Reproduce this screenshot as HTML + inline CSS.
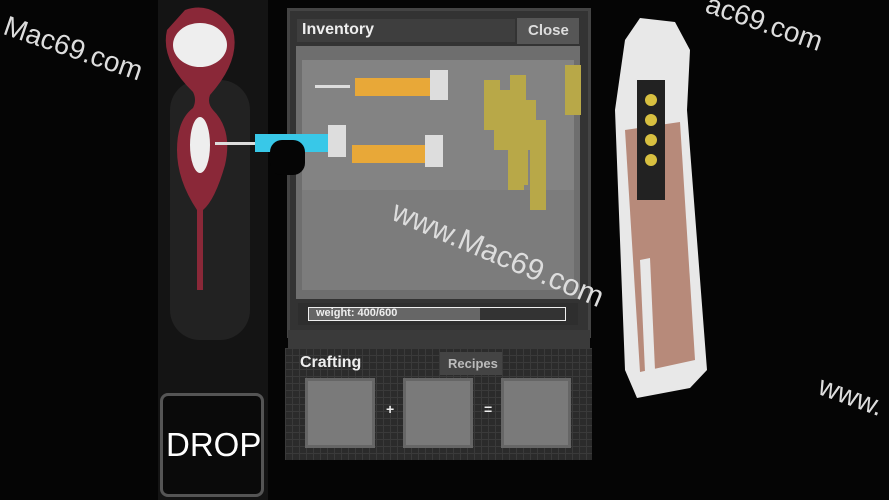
<!DOCTYPE html>
<html><head><meta charset="utf-8"><style>
body{margin:0;width:889px;height:500px;background:#050505;position:relative;overflow:hidden;font-family:"Liberation Sans",sans-serif}
div{position:absolute;box-sizing:border-box}
.t{color:#eee;font-weight:bold}
.wm{color:#ddd;font-size:28px;white-space:nowrap;transform-origin:left top}
</style></head><body>
<!-- left silhouette -->
<div style="left:158px;top:0;width:110px;height:500px;background:#141414"></div>
<div style="left:170px;top:80px;width:80px;height:260px;background:#222;border-radius:30px"></div>
<svg style="position:absolute;left:155px;top:0" width="120" height="300">
<path d="M30 10 Q58 0 78 30 Q86 60 55 95 Q52 103 58 110 Q78 130 70 165 Q60 200 48 210 L48 290 L42 290 L42 210 Q22 180 22 150 Q22 120 38 108 Q42 100 38 92 Q5 60 12 30 Z" fill="#8a2838"/>
<ellipse cx="45" cy="45" rx="27" ry="22" fill="#eee"/>
<ellipse cx="45" cy="145" rx="10" ry="28" fill="#eee"/>
</svg>
<!-- right weapon -->
<svg style="position:absolute;left:595px;top:10px" width="130" height="390">
<polygon points="30,30 45,8 80,12 95,40 92,100 112,360 95,378 42,388 30,360 20,100" fill="#e8e8e8"/>
<polygon points="30,120 85,112 100,350 45,362" fill="#b78a7a"/>
<polygon points="45,250 55,248 60,360 50,362" fill="#e8e8e8"/>
<rect x="42" y="70" width="28" height="120" fill="#222"/>
<circle cx="56" cy="90" r="6" fill="#d8c040"/><circle cx="56" cy="110" r="6" fill="#d8c040"/><circle cx="56" cy="130" r="6" fill="#d8c040"/><circle cx="56" cy="150" r="6" fill="#d8c040"/>
</svg>
<!-- inventory panel -->
<div style="left:287px;top:8px;width:304px;height:330px;background:#333;border:3px solid #444"></div>
<div style="left:297px;top:19px;width:218px;height:23px;background:#3e3e3e"></div>
<div class="t" style="left:302px;top:21px;font-size:16px">Inventory</div>
<div style="left:517px;top:18px;width:62px;height:26px;background:#565656"></div>
<div style="left:528px;top:22px;font-size:15px;color:#ddd;font-weight:bold">Close</div>
<div style="left:296px;top:46px;width:284px;height:253px;background:#6e6e6e"></div>
<div style="left:302px;top:60px;width:272px;height:230px;background:#838383"></div>
<div style="left:302px;top:190px;width:272px;height:100px;background:#7c7c7c"></div>
<!-- syringes -->
<div style="left:315px;top:85px;width:35px;height:3px;background:#ddd"></div>
<div style="left:355px;top:78px;width:75px;height:18px;background:#e8a838"></div>
<div style="left:430px;top:70px;width:18px;height:30px;background:#ddd"></div>
<div style="left:215px;top:142px;width:40px;height:3px;background:#ddd"></div>
<div style="left:255px;top:134px;width:75px;height:18px;background:#38c8e8"></div>
<div style="left:328px;top:125px;width:18px;height:32px;background:#ddd"></div>
<div style="left:270px;top:140px;width:35px;height:35px;background:#050505;border-radius:12px"></div>
<div style="left:352px;top:145px;width:75px;height:18px;background:#e8a838"></div>
<div style="left:425px;top:135px;width:18px;height:32px;background:#ddd"></div>
<!-- bullets -->
<svg style="position:absolute;left:480px;top:60px" width="105" height="155">
<g fill="#b8a848">
<rect x="4" y="20" width="16" height="50"/><rect x="14" y="30" width="16" height="60"/><rect x="30" y="15" width="16" height="55"/>
<rect x="40" y="40" width="16" height="50"/><rect x="28" y="50" width="16" height="80"/><rect x="50" y="60" width="16" height="60"/>
<rect x="50" y="110" width="16" height="40"/><rect x="85" y="5" width="16" height="50"/><rect x="32" y="80" width="16" height="45"/></g>
</svg>
<!-- weight -->
<div style="left:298px;top:303px;width:280px;height:22px;background:#2e2e2e"></div>
<div style="left:308px;top:307px;width:258px;height:14px;border:1px solid #eee;background:#333"></div>
<div style="left:309px;top:308px;width:171px;height:12px;background:#666"></div>
<div style="left:316px;top:307px;font-size:11px;color:#eee;font-weight:bold">weight: 400/600</div>
<div style="left:288px;top:330px;width:302px;height:18px;background:#3a3a3a"></div>
<!-- crafting -->
<div style="left:285px;top:348px;width:307px;height:112px;background:#2b2b2b;background-image:linear-gradient(#3a3a3a 1px,transparent 1px),linear-gradient(90deg,#3a3a3a 1px,transparent 1px);background-size:7px 7px"></div>
<div class="t" style="left:300px;top:354px;font-size:16px">Crafting</div>
<div style="left:440px;top:352px;width:62px;height:23px;background:#444"></div>
<div style="left:448px;top:356px;font-size:13px;color:#bbb;font-weight:bold">Recipes</div>
<div style="left:305px;top:378px;width:70px;height:70px;background:#7a7a7a;border:3px solid #666"></div>
<div style="left:403px;top:378px;width:70px;height:70px;background:#7a7a7a;border:3px solid #666"></div>
<div style="left:501px;top:378px;width:70px;height:70px;background:#7a7a7a;border:3px solid #666"></div>
<div class="t" style="left:386px;top:401px;font-size:14px">+</div>
<div class="t" style="left:484px;top:401px;font-size:14px">=</div>
<!-- drop -->
<div style="left:160px;top:393px;width:104px;height:104px;background:#0a0a0a;border:3px solid #555;border-radius:8px"></div>
<div style="left:166px;top:426px;font-size:33px;color:#fff">DROP</div>
<!-- watermarks -->
<div class="wm" style="left:10px;top:10px;transform:rotate(19deg)">Mac69.com</div>
<div class="wm" style="left:400px;top:195px;transform:rotate(23deg);font-size:30px">www.Mac69.com</div>
<div class="wm" style="left:712px;top:-12px;transform:rotate(19deg)">ac69.com</div>
<div class="wm" style="left:825px;top:370px;transform:rotate(20deg)">www.</div>
</body></html>
